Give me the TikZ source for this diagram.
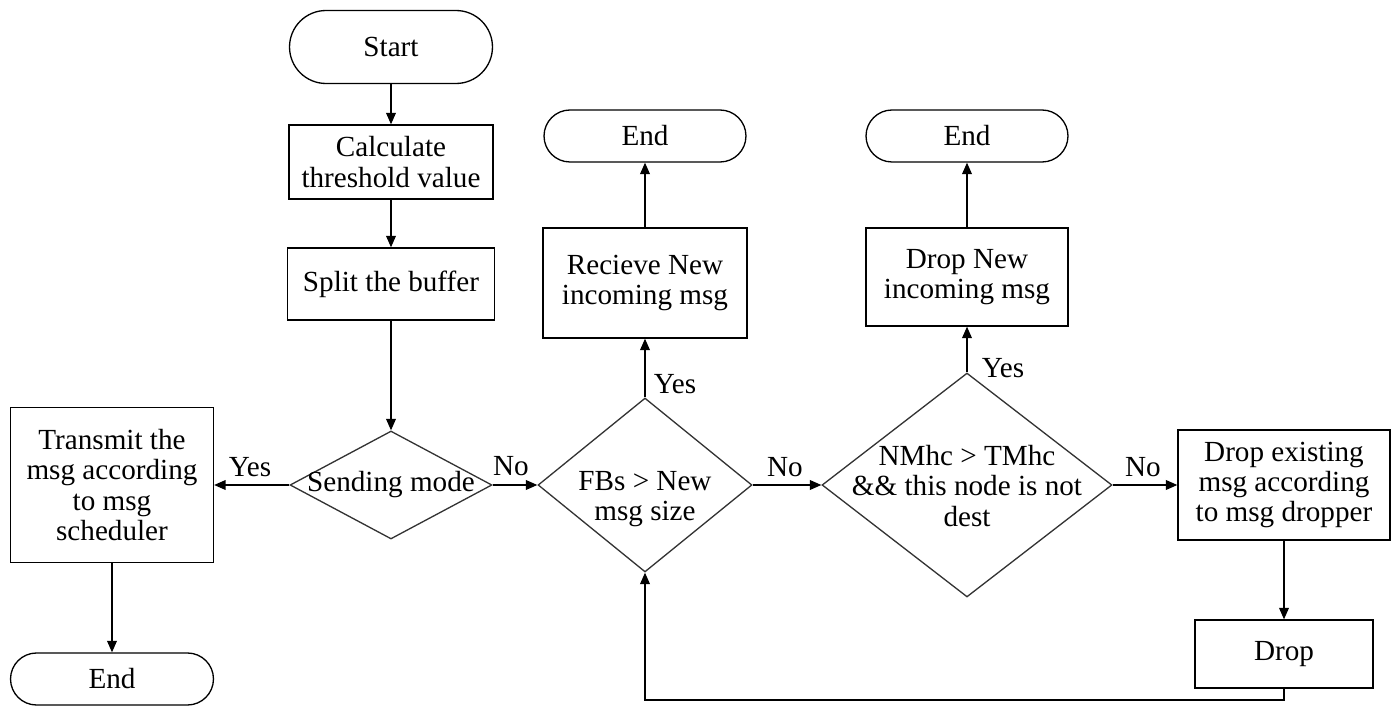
\documentclass[tikz,border=0pt]{standalone}
\usepackage{fontspec}
\setmainfont{Liberation Serif}
\usetikzlibrary{shapes.geometric,arrows.meta}
\begin{document}
\begin{tikzpicture}[x=0.02cm,y=-0.02cm,
  font=\fontsize{16.6}{17.2}\selectfont,
  line width=0.75pt,
  term/.style={draw, rectangle, rounded corners=0.5cm, inner sep=0pt, align=center},
  procbox/.style={draw, rectangle, inner sep=0pt, align=center},
  decis/.style={draw=black!80, diamond, inner sep=0pt},
  txt/.style={inner sep=0pt, align=center},
  arr/.style={-{Triangle[length=6.5pt,width=5.5pt]}}]
\useasboundingbox (0,0) rectangle (1400,709);

\node[term, rounded corners=0.73cm, minimum width=4.06cm, minimum height=1.46cm] (start) at (391,47) {Start};
\node[procbox, minimum width=4.08cm, minimum height=1.48cm] (calc) at (391,162) {Calculate\\threshold value};
\node[procbox, minimum width=4.14cm, minimum height=1.44cm] (split) at (391,284) {Split the buffer};
\node[decis, minimum width=4.04cm, minimum height=2.16cm] (send) at (391,485) {};
\node[txt] (sendt) at (391,485) {Sending mode};
\node[procbox, minimum width=4.06cm, minimum height=3.1cm] (trans) at (112,485) {Transmit the\\msg according\\to msg\\scheduler};
\node[term, rounded corners=0.52cm, minimum width=4.06cm, minimum height=1.04cm] (end1) at (112,679) {End};

\node[decis, minimum width=4.28cm, minimum height=3.48cm] (fbs) at (645,485) {};
\node[txt] (fbst) at (645,499) {FBs > New\\msg size};
\node[procbox, minimum width=4.08cm, minimum height=2.2cm] (recv) at (645,283) {Recieve New\\incoming msg};
\node[term, rounded corners=0.52cm, minimum width=4.04cm, minimum height=1.04cm] (end2) at (645,136) {End};

\node[decis, minimum width=5.8cm, minimum height=4.48cm] (nmhc) at (967,485) {};
\node[txt] (nmhct) at (967,486) {NMhc > TMhc\\\&\& this node is not\\dest};
\node[procbox, minimum width=4.04cm, minimum height=1.96cm] (dropnew) at (967,277) {Drop New\\incoming msg};
\node[term, rounded corners=0.52cm, minimum width=4.04cm, minimum height=1.04cm] (end3) at (967,136) {End};

\node[procbox, minimum width=4.24cm, minimum height=2.2cm] (dropex) at (1284,485) {Drop existing\\msg according\\to msg dropper};
\node[procbox, minimum width=3.56cm, minimum height=1.36cm] (drop) at (1284,654) {Drop};
\coordinate (loop) at (1284,700);

\draw[arr] (start) -- (calc);
\draw[arr] (calc) -- (split);
\draw[arr] (split.south) -- (send.north);
\draw[arr] (send.west) -- (trans.east);
\draw[arr] (trans) -- (end1);
\draw[arr] (send.east) -- (fbs.west);
\draw[arr] (fbs.north) -- (recv.south);
\draw[arr] (recv) -- (end2);
\draw[arr] (fbs.east) -- (nmhc.west);
\draw[arr] (nmhc.north) -- (dropnew.south);
\draw[arr] (dropnew) -- (end3);
\draw[arr] (nmhc.east) -- (dropex.west);
\draw[arr] (dropex) -- (drop);
\draw[arr] (drop.south) -- (loop) -| (fbs.south);

\node[txt] (l1) at (250,467) {Yes};
\node[txt] (l2) at (511,466) {No};
\node[txt] (l3) at (675,384) {Yes};
\node[txt] (l4) at (785,467) {No};
\node[txt] (l5) at (1003,368) {Yes};
\node[txt] (l6) at (1143,467) {No};
\end{tikzpicture}
\end{document}
